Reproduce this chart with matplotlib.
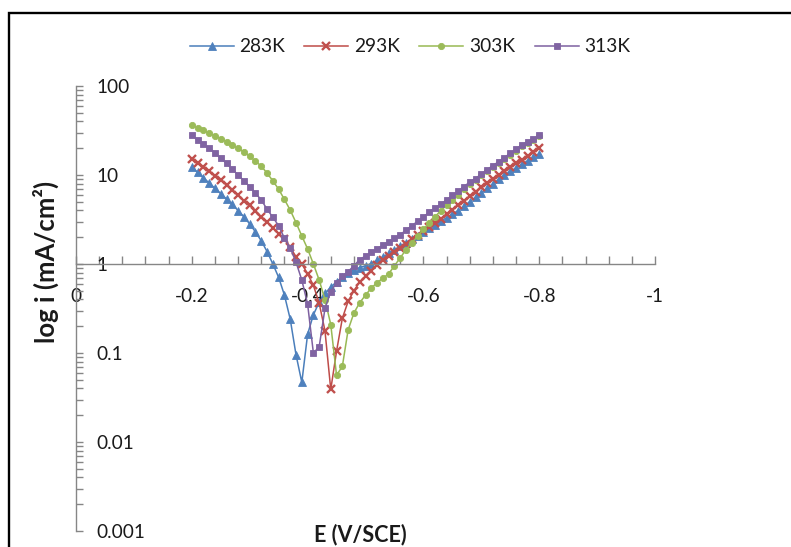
import numpy as np
import matplotlib
matplotlib.use("Agg")
import matplotlib.pyplot as plt
from matplotlib import ticker
from matplotlib.patches import Rectangle

# ---------------- data ----------------
E = [-0.20, -0.21, -0.22, -0.23, -0.24, -0.25, -0.26, -0.27, -0.28, -0.29,
     -0.30, -0.31, -0.32, -0.33, -0.34, -0.35, -0.36, -0.37, -0.38, -0.39,
     -0.40, -0.41, -0.42, -0.43, -0.44, -0.45, -0.46, -0.47, -0.48, -0.49,
     -0.50, -0.51, -0.52, -0.53, -0.54, -0.55, -0.56, -0.57, -0.58, -0.59,
     -0.60, -0.61, -0.62, -0.63, -0.64, -0.65, -0.66, -0.67, -0.68, -0.69,
     -0.70, -0.71, -0.72, -0.73, -0.74, -0.75, -0.76, -0.77, -0.78, -0.79,
     -0.80]

# log10 of current density (mA/cm2)
log_i_283K = [1.09, 1.03, 0.97, 0.91, 0.85, 0.79, 0.73, 0.67, 0.60, 0.53,
              0.45, 0.36, 0.26, 0.14, 0.00, -0.15, -0.35, -0.62, -1.02, -1.33,
              -0.79, -0.57, -0.43, -0.33, -0.26, -0.20, -0.15, -0.10, -0.065, -0.04,
              -0.02, 0.005, 0.04, 0.08, 0.12, 0.16, 0.20, 0.24, 0.28, 0.32,
              0.36, 0.40, 0.44, 0.48, 0.52, 0.56, 0.60, 0.65, 0.70, 0.75,
              0.80, 0.85, 0.90, 0.95, 1.00, 1.04, 1.08, 1.12, 1.16, 1.20,
              1.24]
log_i_293K = [1.18, 1.13, 1.085, 1.04, 0.99, 0.94, 0.89, 0.83, 0.77, 0.71,
              0.66, 0.60, 0.53, 0.47, 0.41, 0.34, 0.28, 0.19, 0.08, 0.00,
              -0.11, -0.24, -0.44, -0.75, -1.41, -0.98, -0.61, -0.42, -0.30, -0.20,
              -0.135, -0.075, -0.015, 0.04, 0.09, 0.14, 0.18, 0.23, 0.28, 0.33,
              0.37, 0.42, 0.46, 0.51, 0.56, 0.61, 0.66, 0.71, 0.76, 0.81,
              0.86, 0.91, 0.96, 1.00, 1.04, 1.09, 1.13, 1.17, 1.21, 1.255,
              1.30]
log_i_303K = [1.56, 1.53, 1.50, 1.47, 1.44, 1.41, 1.375, 1.335, 1.30, 1.26,
              1.21, 1.155, 1.10, 1.02, 0.935, 0.84, 0.725, 0.605, 0.465, 0.315,
              0.17, 0.00, -0.18, -0.40, -0.68, -1.25, -1.15, -0.74, -0.55, -0.435,
              -0.35, -0.27, -0.21, -0.16, -0.11, -0.02, 0.07, 0.16, 0.24, 0.31,
              0.39, 0.46, 0.53, 0.60, 0.66, 0.72, 0.78, 0.845, 0.90, 0.945,
              0.995, 1.045, 1.09, 1.135, 1.18, 1.23, 1.275, 1.325, 1.36, 1.39,
              1.44]
log_i_313K = [1.45, 1.39, 1.35, 1.30, 1.25, 1.19, 1.13, 1.065, 1.00, 0.935,
              0.87, 0.795, 0.72, 0.615, 0.525, 0.43, 0.29, 0.18, 0.02, -0.18,
              -0.45, -1.00, -0.93, -0.50, -0.31, -0.21, -0.135, -0.085, -0.02, 0.05,
              0.09, 0.13, 0.17, 0.21, 0.25, 0.29, 0.33, 0.38, 0.43, 0.48,
              0.53, 0.58, 0.63, 0.67, 0.72, 0.77, 0.82, 0.87, 0.92, 0.96,
              1.01, 1.06, 1.105, 1.15, 1.195, 1.245, 1.29, 1.34, 1.375, 1.40,
              1.45]

series_names = ["283K", "293K", "303K", "313K"]
x_tick_values = [0, -0.2, -0.4, -0.6, -0.8, -1]
x_tick_labels = ["0", "-0.2", "-0.4", "-0.6", "-0.8", "-1"]
y_tick_values = [0.001, 0.01, 0.1, 1, 10, 100]
y_tick_labels = ["0.001", "0.01", "0.1", "1", "10", "100"]

# ---------------- styling ----------------
plt.rcParams['font.family'] = ['Lato', 'DejaVu Sans']
line_colors = ["#4A7EBB", "#BE4B48", "#98B954", "#7D60A0"]
marker_colors = ["#4F81BD", "#C0504D", "#9BBB59", "#8064A2"]
markers = ["^", "x", "o", "s"]
msizes = [5.5, 5.3, 4.5, 5.0]
axis_grey = "#868686"
text_color = "#1a1a1a"

W, H = 791, 547
fig = plt.figure(figsize=(W / 100, H / 100), dpi=100)
fig.patch.set_facecolor("white")

ax_left, ax_right, ax_top, ax_bottom = 76, 655, 86, 531
ax = fig.add_axes([ax_left / W, 1 - ax_bottom / H,
                   (ax_right - ax_left) / W, (ax_bottom - ax_top) / H])

all_logs = [log_i_283K, log_i_293K, log_i_303K, log_i_313K]
handles = []
for name, logs, lc, mc, mk, ms in zip(series_names, all_logs, line_colors,
                                      marker_colors, markers, msizes):
    i_vals = 10 ** np.array(logs)
    if mk == "x":
        h, = ax.plot(E, i_vals, color=lc, lw=1.1, marker=mk, ms=ms,
                     mec=mc, mew=1.7, label=name, clip_on=False)
    else:
        h, = ax.plot(E, i_vals, color=lc, lw=1.1, marker=mk, ms=ms,
                     mfc=mc, mec=mc, mew=0.6, label=name, clip_on=False)
    handles.append(h)

ax.set_yscale("log")
ax.set_xlim(0, -1)
ax.set_ylim(0.001, 100)

# spines: y axis at x=0, x axis crossing at y=1
for s in ["top", "right"]:
    ax.spines[s].set_visible(False)
ax.spines["bottom"].set_position(("data", 1))
for s in ["left", "bottom"]:
    ax.spines[s].set_color(axis_grey)
    ax.spines[s].set_linewidth(1.0)
ax.patch.set_alpha(0)

ax.xaxis.set_major_locator(ticker.FixedLocator(x_tick_values))
ax.xaxis.set_major_formatter(ticker.FixedFormatter(x_tick_labels))
ax.xaxis.set_minor_locator(ticker.MultipleLocator(0.04))
ax.yaxis.set_major_locator(ticker.FixedLocator(y_tick_values))
ax.yaxis.set_major_formatter(ticker.FixedFormatter(y_tick_labels))
ax.yaxis.set_minor_locator(ticker.LogLocator(base=10, subs=np.arange(2, 10)))
ax.yaxis.set_minor_formatter(ticker.NullFormatter())

ax.tick_params(axis="x", which="both", direction="in", length=5.5,
               color=axis_grey, width=1.0, pad=17, labelsize=13.7,
               labelcolor=text_color)
ax.tick_params(axis="y", which="both", direction="in", length=4.8,
               color=axis_grey, width=1.0, pad=-15, labelsize=13.7,
               labelcolor=text_color)
for lab in ax.get_yticklabels():
    lab.set_horizontalalignment("left")

# axis titles
ax.set_ylabel("log i (mA/cm²)", fontsize=18.5, fontweight="bold",
              color=text_color, va="center")
ax.yaxis.set_label_coords((46 - ax_left) / (ax_right - ax_left),
                          (ax_bottom - 262) / (ax_bottom - ax_top))
ax.set_xlabel("E (V/SCE)", fontsize=15.5, fontweight="bold",
              color=text_color, va="center")
ax.xaxis.set_label_coords((360 - ax_left) / (ax_right - ax_left),
                          (ax_bottom - 535) / (ax_bottom - ax_top))

# legend
fig.legend(handles=handles, loc="center", bbox_to_anchor=(410 / W, 1 - 47 / H),
           ncol=4, frameon=False, fontsize=13.8, handlelength=2.3,
           columnspacing=1.0, handletextpad=0.3, labelcolor=text_color)

# outer chart border (extends past right and bottom edges)
fig.patches.append(Rectangle((9 / W, -0.2), 1.5, 1.2 - 13 / H,
                             transform=fig.transFigure, fill=False,
                             ec="black", lw=1.7))

fig.savefig("out.png", dpi=100)
